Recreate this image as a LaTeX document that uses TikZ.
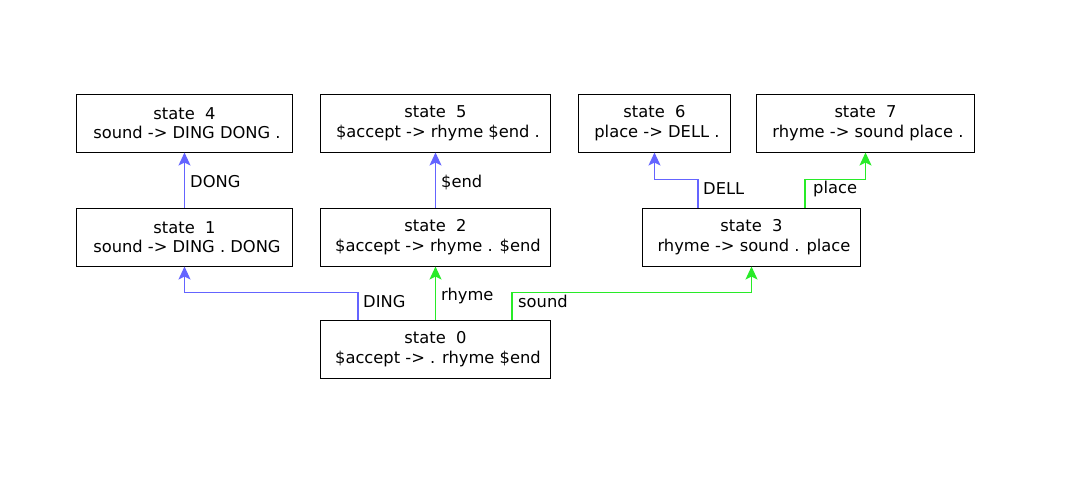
\documentclass[tikz,border=0pt]{standalone}
\usepackage{fontspec}
\setmainfont{DejaVu Sans}
\usetikzlibrary{arrows.meta}
\definecolor{eblue}{RGB}{100,100,255}
\definecolor{egreen}{RGB}{40,235,40}
\begin{document}
\begin{tikzpicture}[x=1pt,y=-1pt,
  every node/.style={font=\fontsize{16.3}{19.5}\selectfont, inner sep=0pt},
  statebox/.style={draw=black, line width=1pt, rectangle, align=center, minimum height=58pt},
  edge/.style={line width=1.25pt, -{Stealth[length=13pt,width=12pt,inset=3pt]}},
  bedge/.style={edge, draw=eblue},
  gedge/.style={edge, draw=egreen},
  lbl/.style={anchor=base west}]
\useasboundingbox[fill=white] (0,0) rectangle (1067,501);
\node[statebox, minimum width=216pt] (s4) at (184.5,123) {state\ \ 4\\\hspace*{0.3em}sound -> DING DONG .};
\node[statebox, minimum width=216pt] (s1) at (184.5,237) {state\ \ 1\\\hspace*{0.3em}sound -> DING . DONG};
\node[statebox, minimum width=230pt] (s5) at (435.5,123) {state\ \ 5\\\hspace*{0.3em}\$accept -> rhyme \$end .};
\node[statebox, minimum width=230pt] (s2) at (435.5,237) {state\ \ 2\\\hspace*{0.3em}\$accept -> rhyme . \$end};
\node[statebox, minimum width=230pt] (s0) at (435.5,349) {state\ \ 0\\\hspace*{0.3em}\$accept -> . rhyme \$end};
\node[statebox, minimum width=152pt] (s6) at (654.5,123) {state\ \ 6\\\hspace*{0.3em}place -> DELL .};
\node[statebox, minimum width=218pt] (s7) at (865.5,123) {state\ \ 7\\\hspace*{0.3em}rhyme -> sound place .};
\node[statebox, minimum width=218pt] (s3) at (751.5,237) {state\ \ 3\\\hspace*{0.3em}rhyme -> sound . place};
% edges
\draw[bedge] (s1.north) -- (s4.south);
\draw[bedge] (s2.north) -- (s5.south);
\draw[gedge] (s0.north) -- (s2.south);
\draw[bedge] ([xshift=38pt]s0.north west) -- ++(0,-27) -| (s1.south);
\draw[gedge] ([xshift=192pt]s0.north west) -- ++(0,-27) -| (s3.south);
\draw[bedge] ([xshift=56pt]s3.north west) -- ++(0,-28) -| (s6.south);
\draw[gedge] ([xshift=163pt]s3.north west) -- ++(0,-28) -| (s7.south);
% labels
\node[lbl] (l1) at (190,187) {DONG};
\node[lbl] (l2) at (441,187) {\$end};
\node[lbl] (l3) at (363,307) {DING};
\node[lbl] (l4) at (441,300) {rhyme};
\node[lbl] (l5) at (518,307) {sound};
\node[lbl] (l6) at (703,194) {DELL};
\node[lbl] (l7) at (813,193) {place};
\end{tikzpicture}
\end{document}
